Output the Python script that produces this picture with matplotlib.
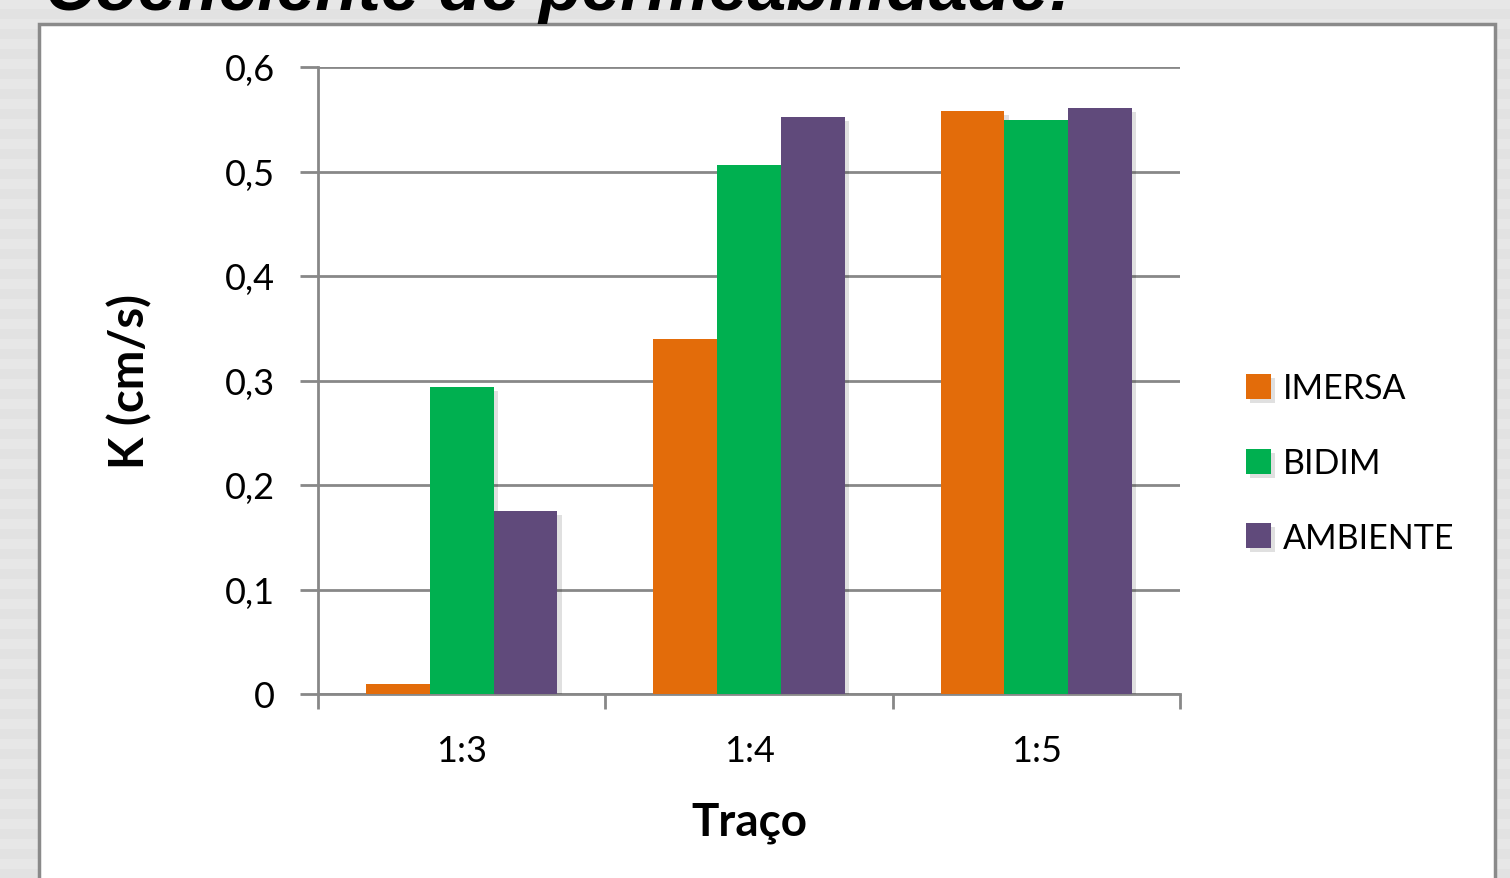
import numpy as np
import matplotlib.pyplot as plt
import matplotlib.patheffects as pe
from matplotlib.patches import Rectangle

# Permeability coefficient per mix ratio and curing condition
tracos = ["1:3", "1:4", "1:5"]
series = ["IMERSA", "BIDIM", "AMBIENTE"]
imersa = [0.010, 0.340, 0.558]
bidim = [0.294, 0.506, 0.549]
ambiente = [0.175, 0.552, 0.561]
yticks = [0, 0.1, 0.2, 0.3, 0.4, 0.5, 0.6]
ytick_labels = ["0", "0,1", "0,2", "0,3", "0,4", "0,5", "0,6"]

colors = ["#E36C0A", "#00B050", "#604A7B"]
grid_grey = "#888888"

W, H = 1510, 879
fig = plt.figure(figsize=(W / 100, H / 100), dpi=100)

# striped slide background
bg = fig.add_axes([0, 0, 1, 1], zorder=-10)
rows = np.arange(H)
stripes = np.where((rows // 10) % 2 == 0, 0.905, 0.885)
bg.imshow(np.tile(stripes[:, None], (1, 4)), cmap="gray", vmin=0, vmax=1,
          aspect="auto", extent=[0, 1, 0, 1], interpolation="nearest")
bg.set_axis_off()

# slide title (runs off the top edge)
fig.text(45 / W, 1 - 10 / H, "Coeficiente de permeabilidade:",
         fontsize=50, fontweight="bold", fontstyle="italic",
         family="Liberation Sans", va="baseline", ha="left", color="black")

# white chart frame
fig.patches.append(Rectangle((39 / W, -0.05), (1495 - 39) / W, 1.05 - 25 / H,
                             transform=fig.transFigure, facecolor="white",
                             edgecolor="#8a8a8a", linewidth=2.5, zorder=-5))

ax = fig.add_axes([318 / W, 1 - 695 / H, (1180 - 318) / W, (695 - 68) / H])
ax.set_facecolor("none")

x = np.arange(len(tracos))
width = 0.222
shadow = [pe.SimplePatchShadow(offset=(3, -3), shadow_rgbFace="#000000", alpha=0.12),
          pe.Normal()]
for i, (name, vals) in enumerate(zip(series, [imersa, bidim, ambiente])):
    ax.bar(x + (i - 1) * width, vals, width, color=colors[i], label=name,
           zorder=3, path_effects=shadow)

ax.set_xlim(-0.5, 2.5)
ax.set_ylim(0, 0.6)
ax.set_yticks(yticks)
ax.set_yticklabels(ytick_labels)
ax.yaxis.grid(True, color=grid_grey, linewidth=2)
ax.set_axisbelow(True)

ax.set_xticks(x)
ax.set_xticklabels(tracos)
ax.set_xticks([-0.5, 0.5, 1.5, 2.5], minor=True)
ax.tick_params(axis="x", which="major", length=0, pad=29)
ax.tick_params(axis="x", which="minor", length=11, width=2, color=grid_grey)
ax.tick_params(axis="y", length=13, width=2, color=grid_grey, pad=18)

for side in ["top", "right"]:
    ax.spines[side].set_visible(False)
for side in ["left", "bottom"]:
    ax.spines[side].set_color(grid_grey)
    ax.spines[side].set_linewidth(2)

font = "Lato"
for lab in ax.get_xticklabels() + ax.get_yticklabels():
    lab.set_fontsize(26)
    lab.set_family(font)

ax.set_xlabel("Traço", fontsize=33, fontweight="bold", family=font, labelpad=24)
ax.set_ylabel("K (cm/s)", fontsize=34, fontweight="bold", family=font, labelpad=52)

leg = ax.legend(loc="center left", bbox_to_anchor=(1232 / W, 1 - 464 / H),
                bbox_transform=fig.transFigure, frameon=False,
                prop={"family": font, "size": 24.5},
                handlelength=0.75, handleheight=0.75, handletextpad=0.35,
                labelspacing=1.25, borderaxespad=0)

fig.savefig("out.png", dpi=100)
